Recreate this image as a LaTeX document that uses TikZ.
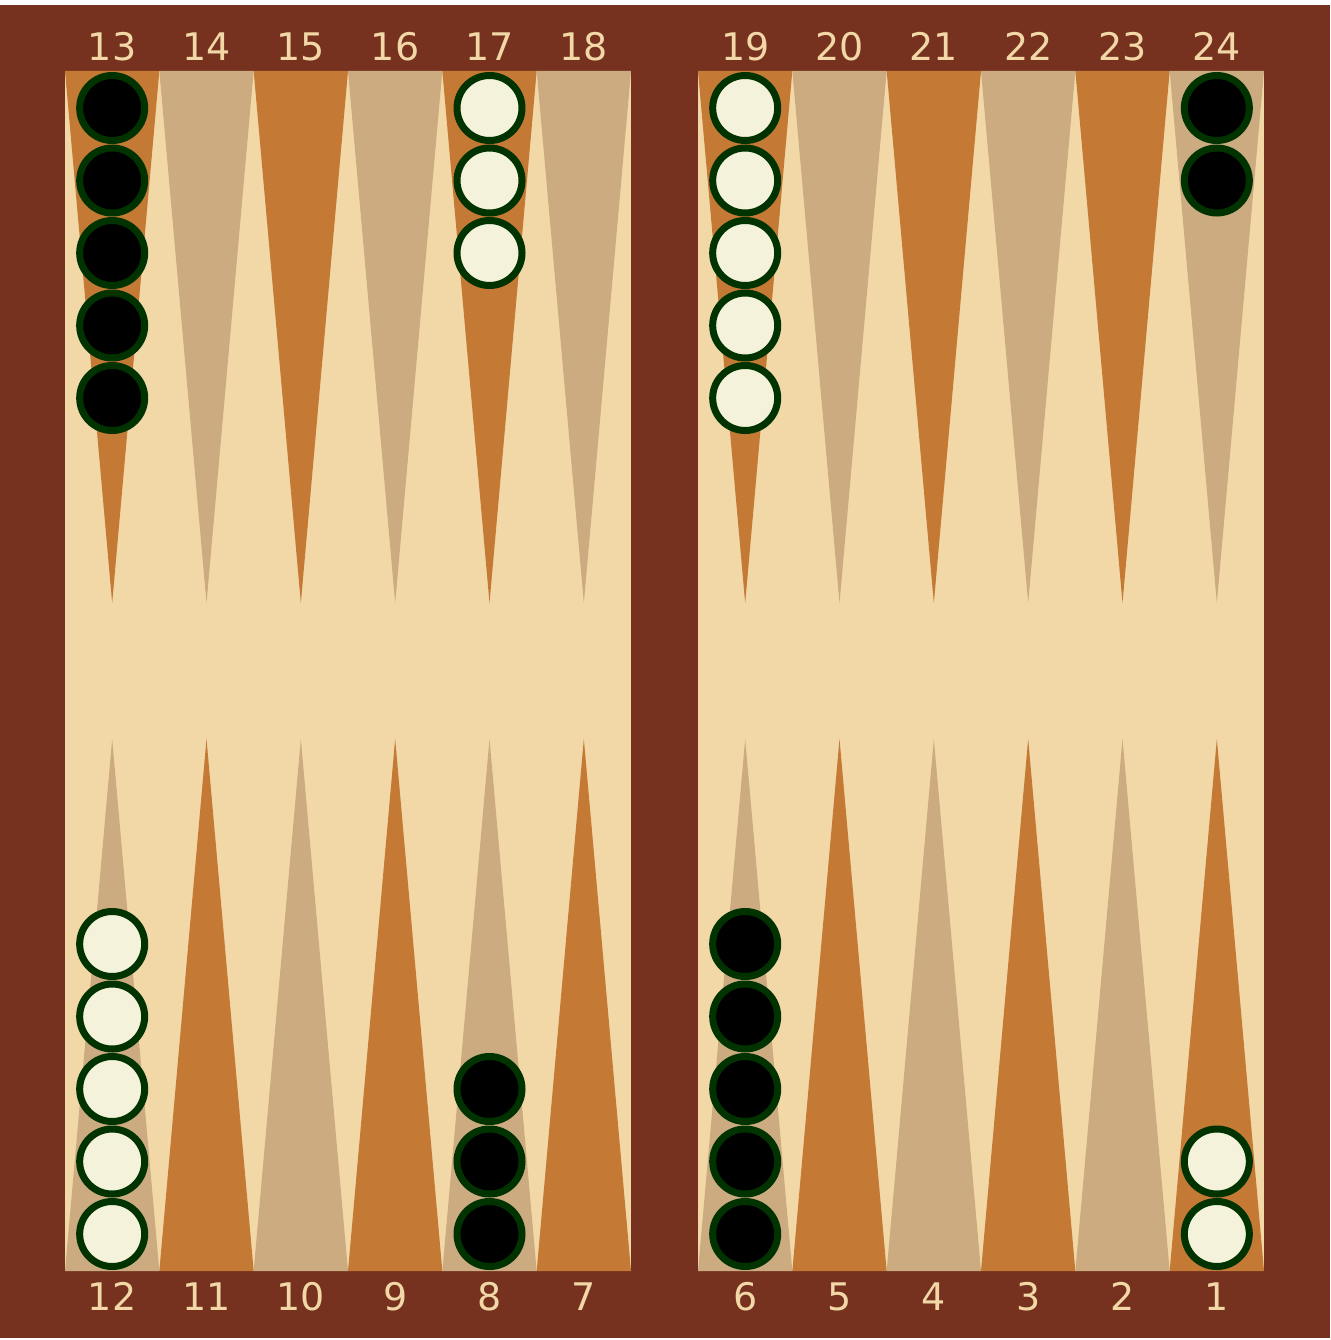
\documentclass[tikz,border=0pt]{standalone}
\usepackage{fontspec}
\setmainfont{DejaVu Sans}
\definecolor{frame}{HTML}{76321F}
\definecolor{board}{HTML}{F2D8A7}
\definecolor{ptorange}{HTML}{C47935}
\definecolor{pttan}{HTML}{CCAB80}
\definecolor{chkwhite}{HTML}{F4F2DA}
\definecolor{chkrim}{HTML}{003300}
\begin{document}
\begin{tikzpicture}[x=1pt,y=-1pt,
  chk/.style={circle,draw=chkrim,line width=7pt,minimum size=65pt,inner sep=0pt},
  blackchk/.style={chk,fill=black},
  whitechk/.style={chk,fill=chkwhite},
  ptnum/.style={text=board,font=\fontsize{38}{38}\selectfont,anchor=base,inner sep=0pt}]
\useasboundingbox (0,0) rectangle (1330,1340);
\fill[white] (0,0) rectangle (1330,1340);
\fill[frame] (0,5) rectangle (1330,1338);
% boards and points
\foreach \bx/\h in {65/0,698/1}{
  \fill[board] (\bx,71) rectangle ++(566,1200);
  \foreach \i in {0,...,5}{
    \pgfmathsetmacro{\xa}{\bx+94.3333*\i}
    \pgfmathsetmacro{\xb}{\xa+94.3333}
    \pgfmathsetmacro{\xm}{\xa+47.1667}
    \pgfmathtruncatemacro{\odd}{mod(\i,2)}
    \ifnum\odd=0
      \fill[ptorange] (\xa,71) -- (\xb,71) -- (\xm,603) -- cycle;
      \fill[pttan] (\xa,1271) -- (\xb,1271) -- (\xm,739) -- cycle;
    \else
      \fill[pttan] (\xa,71) -- (\xb,71) -- (\xm,603) -- cycle;
      \fill[ptorange] (\xa,1271) -- (\xb,1271) -- (\xm,739) -- cycle;
    \fi
    \pgfmathtruncatemacro{\topn}{13+6*\h+\i}
    \pgfmathtruncatemacro{\botn}{12-6*\h-\i}
    \node[ptnum] (top\topn) at (\xm,61) {\topn};
    \node[ptnum] (bot\botn) at (\xm,1310) {\botn};
  }
}
% checkers: top row (y grows downward)
\foreach \k in {0,...,4}{
  \node[blackchk] (p13c\k) at (112.17,108+72.5*\k) {};
  \node[whitechk] (p19c\k) at (745.17,108+72.5*\k) {};
  \node[whitechk] (p12c\k) at (112.17,1234-72.5*\k) {};
  \node[blackchk] (p6c\k) at (745.17,1234-72.5*\k) {};
}
\foreach \k in {0,1,2}{
  \node[whitechk] (p17c\k) at (489.5,108+72.5*\k) {};
  \node[blackchk] (p8c\k) at (489.5,1234-72.5*\k) {};
}
\foreach \k in {0,1}{
  \node[blackchk] (p24c\k) at (1216.83,108+72.5*\k) {};
  \node[whitechk] (p1c\k) at (1216.83,1234-72.5*\k) {};
}
\end{tikzpicture}
\end{document}
